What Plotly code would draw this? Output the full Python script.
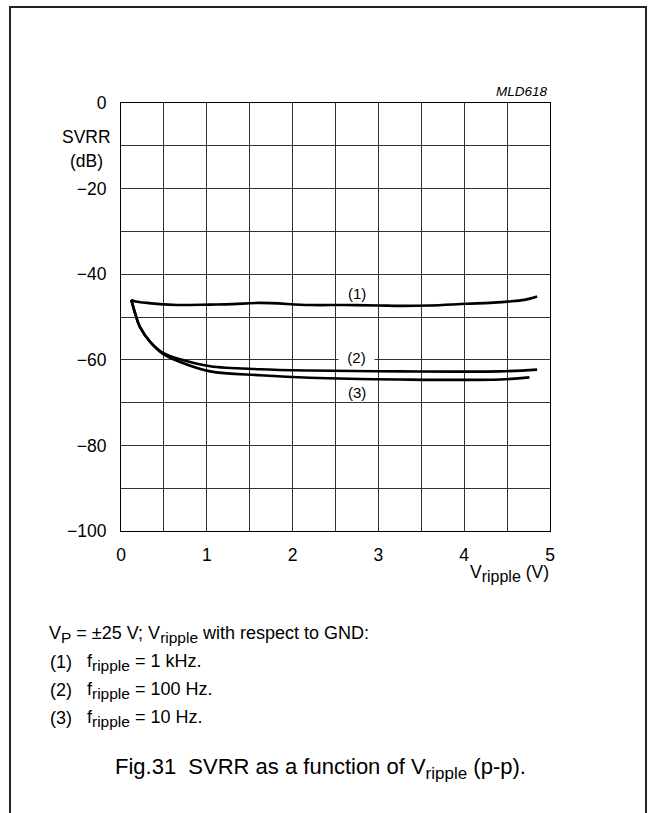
import plotly.graph_objects as go

# SVRR versus ripple voltage for three ripple frequencies
v1 = [0.12, 0.17, 0.26, 0.45, 0.65, 1.04, 1.3, 1.62, 2.2, 2.6, 3.0, 3.25, 3.6, 4.03, 4.3, 4.5, 4.7, 4.85]
svrr1 = [-46.0, -46.4, -46.6, -47.0, -47.2, -47.1, -47.0, -46.7, -47.2, -47.2, -47.3, -47.4, -47.3, -46.9, -46.7, -46.4, -46.0, -45.2]

v2 = [0.12, 0.17, 0.22, 0.34, 0.49, 0.69, 1.04, 1.62, 2.2, 3.25, 4.42, 4.85]
svrr2 = [-46.0, -49.5, -52.3, -55.8, -58.4, -59.9, -61.5, -62.2, -62.5, -62.7, -62.7, -62.3]

v3 = [0.12, 0.17, 0.22, 0.34, 0.49, 0.69, 1.04, 1.62, 2.2, 3.25, 4.42, 4.76]
svrr3 = [-46.0, -49.5, -52.3, -55.8, -58.6, -60.5, -62.7, -63.6, -64.2, -64.6, -64.6, -64.1]

x_ticks = [0, 0.5, 1, 1.5, 2, 2.5, 3, 3.5, 4, 4.5, 5]
x_labels = ["0", "", "1", "", "2", "", "3", "", "4", "", "5"]
y_ticks = [0, -10, -20, -30, -40, -50, -60, -70, -80, -90, -100]
y_labels = ["0", "", "\u221220", "", "\u221240", "", "\u221260", "", "\u221280", "", "\u2212100"]

curve_labels = [("(1)", 2.75, -44.5), ("(2)", 2.75, -59.4), ("(3)", 2.75, -67.6)]

FONT = "Arial, 'Liberation Sans', sans-serif"


def sub(txt, size):
    return f"<sub><span style='font-size:{size}px'>{txt}</span></sub>"


fig = go.Figure()
for xs, ys in [(v1, svrr1), (v2, svrr2), (v3, svrr3)]:
    fig.add_trace(go.Scatter(x=xs, y=ys, mode="lines", line=dict(color="black", width=2.6, shape="spline"),
                             showlegend=False, hoverinfo="skip"))

# plot area spans 121..550 px horizontally, 103..531 px vertically
L, R, T, B = 121, 550, 103, 531
W, H = 655, 813


def px(xp):
    return (xp - L) / (R - L)


def py(yp):
    return (B - yp) / (B - T)


annotations = []
for txt, xv, yv in curve_labels:
    annotations.append(dict(x=xv, y=yv, xref="x", yref="y", text=txt, showarrow=False,
                            font=dict(family=FONT, size=15, color="black"),
                            bgcolor="white" if txt == "(2)" else None, width=33 if txt == "(2)" else None))

annotations += [
    dict(x=px(550), y=py(91), xref="paper", yref="paper", text="<i>MLD618</i>", showarrow=False,
         xanchor="right", yanchor="middle", font=dict(family=FONT, size=13.5, color="black")),
    dict(x=px(86), y=py(137), xref="paper", yref="paper", text="SVRR", showarrow=False,
         xanchor="center", yanchor="middle", font=dict(family=FONT, size=17.5, color="black")),
    dict(x=px(86), y=py(161), xref="paper", yref="paper", text="(dB)", showarrow=False,
         xanchor="center", yanchor="middle", font=dict(family=FONT, size=17.5, color="black")),
    dict(x=px(551), y=py(573), xref="paper", yref="paper", text="V" + sub("ripple", 16) + " (V)",
         showarrow=False, xanchor="right", yanchor="middle", font=dict(family=FONT, size=17.5, color="black")),
    dict(x=px(47), y=py(634), xref="paper", yref="paper",
         text="V" + sub("P", 15.5) + " = \u00b125 V; V" + sub("ripple", 15.5) + " with respect to GND:",
         showarrow=False, xanchor="left", yanchor="middle", font=dict(family=FONT, size=18, color="black")),
]
notes = [("(1)", "f" + sub("ripple", 15.5) + " = 1 kHz."), ("(2)", "f" + sub("ripple", 15.5) + " = 100 Hz."),
         ("(3)", "f" + sub("ripple", 15.5) + " = 10 Hz.")]
for i, (num, desc) in enumerate(notes):
    yy = 662 + 28 * i
    annotations.append(dict(x=px(48), y=py(yy), xref="paper", yref="paper", text=num, showarrow=False,
                            xanchor="left", yanchor="middle", font=dict(family=FONT, size=18, color="black")))
    annotations.append(dict(x=px(85), y=py(yy), xref="paper", yref="paper", text=desc, showarrow=False,
                            xanchor="left", yanchor="middle", font=dict(family=FONT, size=18, color="black")))
annotations.append(dict(x=px(320), y=py(768), xref="paper", yref="paper",
                        text="Fig.31  SVRR as a function of V" + sub("ripple", 17) + " (p-p).", showarrow=False,
                        xanchor="center", yanchor="middle", font=dict(family=FONT, size=22, color="black")))

fig.update_layout(
    width=W, height=H,
    margin=dict(l=L, r=W - R, t=T, b=H - B, pad=0),
    paper_bgcolor="white", plot_bgcolor="white",
    font=dict(family=FONT, size=17.5, color="black"),
    xaxis=dict(range=[0, 5], tickvals=x_ticks, ticktext=x_labels, showgrid=True, gridcolor="#333",
               gridwidth=1, zeroline=False, showline=True, linecolor="black", linewidth=1, mirror=True,
               ticks="", ticklabelstandoff=8, fixedrange=True),
    yaxis=dict(range=[-100, 0], tickvals=y_ticks, ticktext=y_labels, showgrid=True, gridcolor="#333",
               gridwidth=1, zeroline=False, showline=True, linecolor="black", linewidth=1, mirror=True,
               ticks="", ticklabelstandoff=10, fixedrange=True),
    annotations=annotations,
    shapes=[dict(type="rect", xref="paper", yref="paper", x0=px(10), x1=px(646), y0=py(840), y1=py(7),
                 line=dict(color="#222", width=2), fillcolor="rgba(0,0,0,0)", layer="below")],
)

fig.write_html("out.html")
